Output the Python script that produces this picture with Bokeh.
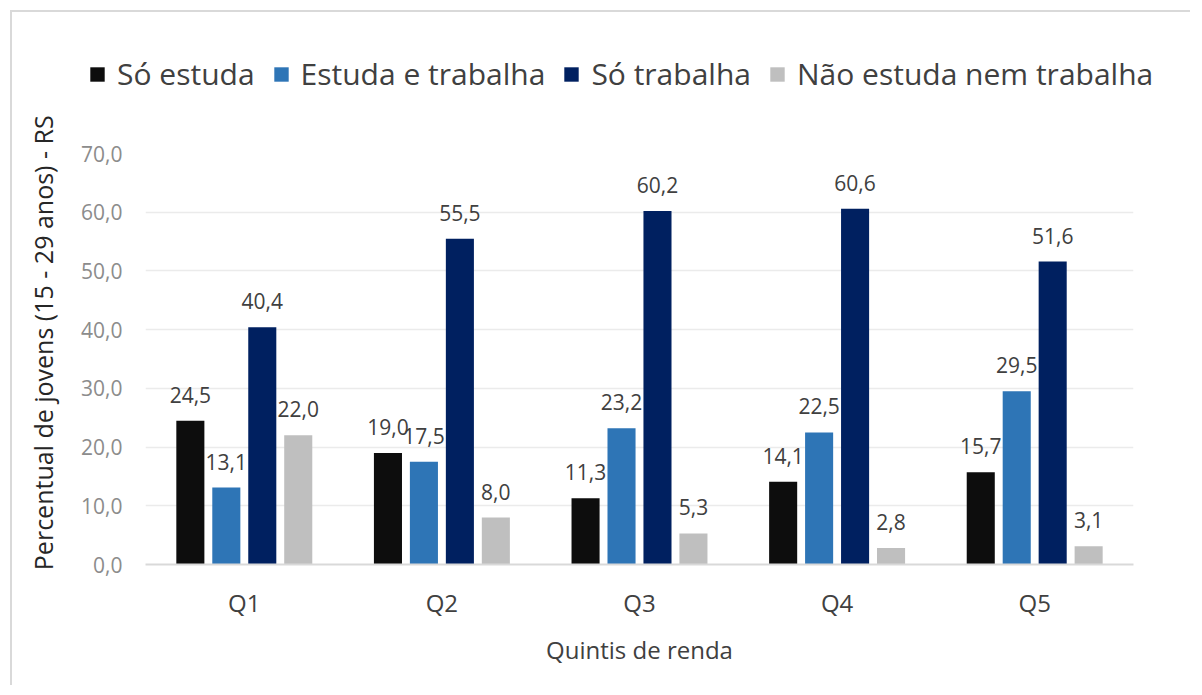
from bokeh.plotting import figure
from bokeh.models import ColumnDataSource, FactorRange, Range1d, FixedTicker, LabelSet, Legend, LegendItem
from bokeh.core.properties import value
from bokeh.transform import dodge
from bokeh.embed import file_html
from bokeh.resources import INLINE

categories = ["Q1", "Q2", "Q3", "Q4", "Q5"]
so_estuda = [24.5, 19.0, 11.3, 14.1, 15.7]
estuda_trabalha = [13.1, 17.5, 23.2, 22.5, 29.5]
so_trabalha = [40.4, 55.5, 60.2, 60.6, 51.6]
nao_estuda = [22.0, 8.0, 5.3, 2.8, 3.1]
series_names = ["Só estuda", "Estuda e trabalha", "Só trabalha", "Não estuda nem trabalha"]
y_ticks = [0, 10, 20, 30, 40, 50, 60, 70]

FONT = "Open Sans"
colors = ["#0d0d0d", "#2e75b6", "#002060", "#bfbfbf"]
series = [so_estuda, estuda_trabalha, so_trabalha, nao_estuda]
offsets = [-0.273, -0.091, 0.091, 0.273]
W = 1180
LEG_H = 90
MAIN_H = 585

def fmt(v):
    return f"{v:.1f}".replace(".", ",")

# legend strip (top)
leg = figure(x_range=FactorRange(*categories), y_range=Range1d(0, 1),
             width=W, height=LEG_H, output_backend="svg", toolbar_location=None,
             x_axis_type=None, y_axis_type=None,
             min_border_left=0, min_border_right=0, min_border_top=0, min_border_bottom=0)
leg.outline_line_color = None
leg.grid.visible = False
leg.background_fill_color = "white"
leg.border_fill_color = "white"
leg.styles = {"border-top": "2px solid #d9d9d9", "border-left": "2px solid #d9d9d9",
              "margin-left": "10px", "margin-top": "10px"}

# main chart
p = figure(x_range=FactorRange(*categories, range_padding=0), y_range=Range1d(0, 70),
           width=W, height=MAIN_H, output_backend="svg", toolbar_location=None,
           min_border_left=133, min_border_right=59, min_border_top=53, min_border_bottom=121)
p.outline_line_color = None
p.background_fill_color = "white"
p.border_fill_color = "white"
p.styles = {"border-left": "2px solid #d9d9d9", "margin-left": "10px"}

items = []
for name, vals, col, off in zip(series_names, series, colors, offsets):
    src = ColumnDataSource(dict(cat=categories, val=vals, lab=[fmt(v) for v in vals]))
    p.vbar(x=dodge("cat", off, range=p.x_range), top="val", width=0.142, source=src,
           fill_color=col, line_color=None)
    labels = LabelSet(x=dodge("cat", off, range=p.x_range), y="val", text="lab", source=src,
                      text_align="center", text_baseline="alphabetic", y_offset=18,
                      text_font=value(FONT), text_font_size="21px", text_color="#404040")
    p.add_layout(labels)
    lr = leg.vbar(x=dodge("cat", off, range=leg.x_range), top="val", width=0.142, source=src,
                  fill_color=col, line_color=None, visible=False)
    items.append(LegendItem(label=name, renderers=[lr]))

legend = Legend(items=items, orientation="horizontal", location=(76, 8),
                glyph_width=18, glyph_height=18, label_standoff=11, spacing=17,
                padding=0, margin=0, border_line_color=None, background_fill_alpha=0,
                label_text_font=FONT, label_text_font_size="30px", label_text_color="#404040")
leg.add_layout(legend, "center")

p.ygrid.grid_line_color = "#ebebeb"
p.ygrid.grid_line_width = 1.5
p.xgrid.grid_line_color = None

p.yaxis.ticker = FixedTicker(ticks=y_ticks)
p.yaxis.major_label_overrides = {t: fmt(t) for t in y_ticks}
p.yaxis.axis_line_color = None
p.yaxis.major_tick_line_color = None
p.yaxis.minor_tick_line_color = None
p.yaxis.major_label_standoff = 17
p.yaxis.major_label_text_font = FONT
p.yaxis.major_label_text_font_size = "21px"
p.yaxis.major_label_text_color = "#8c8c8c"
p.yaxis.axis_label = "\u00a0" * 5 + "Percentual de jovens (15 - 29 anos) - RS"
p.yaxis.axis_label_text_font = FONT
p.yaxis.axis_label_text_font_size = "25px"
p.yaxis.axis_label_text_font_style = "normal"
p.yaxis.axis_label_text_color = "#262626"
p.yaxis.axis_label_standoff = 18

p.xaxis.axis_line_color = "#d9d9d9"
p.xaxis.axis_line_width = 2
p.xaxis.major_tick_line_color = None
p.xaxis.minor_tick_line_color = None
p.xaxis.major_label_standoff = 15
p.xaxis.major_label_text_font = FONT
p.xaxis.major_label_text_font_size = "24px"
p.xaxis.major_label_text_color = "#404040"
p.xaxis.axis_label = "Quintis de renda"
p.xaxis.axis_label_text_font = FONT
p.xaxis.axis_label_text_font_size = "24px"
p.xaxis.axis_label_text_font_style = "normal"
p.xaxis.axis_label_text_color = "#404040"
p.xaxis.axis_label_standoff = 11

open("out.html", "w").write(file_html([leg, p], INLINE))
